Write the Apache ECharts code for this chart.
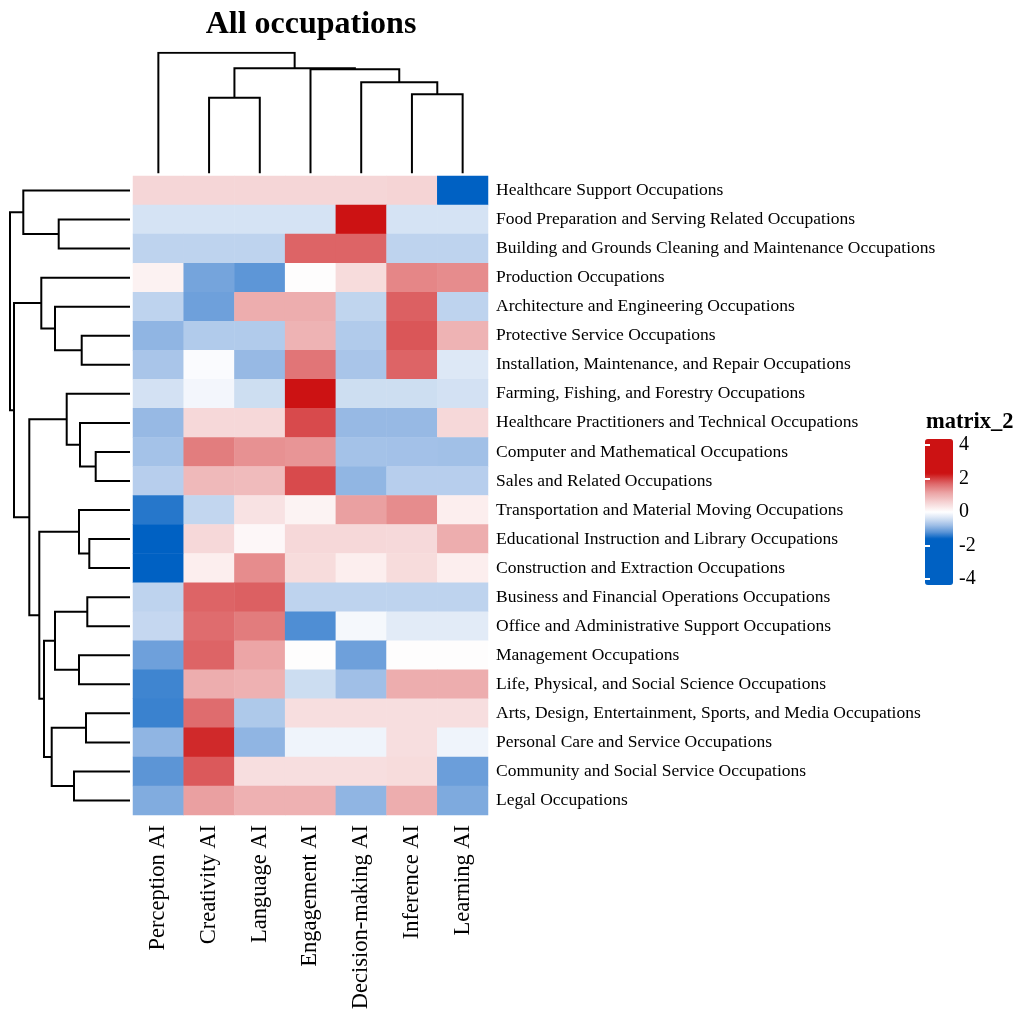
<!DOCTYPE html>
<html>
<head>
<meta charset="utf-8">
<script src="https://cdn.jsdelivr.net/npm/echarts@6/dist/echarts.min.js"></script>
<style>
  html, body { margin: 0; padding: 0; background: #ffffff; }
  #chart { width: 1019px; height: 1017px; }
</style>
</head>
<body>
<div id="chart"></div>
<script>
// Column (AI capability) and row (occupation) labels, in dendrogram order
const aiTypes = ['Perception AI', 'Creativity AI', 'Language AI', 'Engagement AI',
  'Decision-making AI', 'Inference AI', 'Learning AI'];

const occupations = [
  'Healthcare Support Occupations',
  'Food Preparation and Serving Related Occupations',
  'Building and Grounds Cleaning and Maintenance Occupations',
  'Production Occupations',
  'Architecture and Engineering Occupations',
  'Protective Service Occupations',
  'Installation, Maintenance, and Repair Occupations',
  'Farming, Fishing, and Forestry Occupations',
  'Healthcare Practitioners and Technical Occupations',
  'Computer and Mathematical Occupations',
  'Sales and Related Occupations',
  'Transportation and Material Moving Occupations',
  'Educational Instruction and Library Occupations',
  'Construction and Extraction Occupations',
  'Business and Financial Operations Occupations',
  'Office and Administrative Support Occupations',
  'Management Occupations',
  'Life, Physical, and Social Science Occupations',
  'Arts, Design, Entertainment, Sports, and Media Occupations',
  'Personal Care and Service Occupations',
  'Community and Social Service Occupations',
  'Legal Occupations'
];

// matrix_2 values: one row per occupation, one column per AI type
const matrix2 = [
  [ 0.54,  0.54,  0.54,  0.54,  0.54,  0.56, -1.80],
  [-0.38, -0.38, -0.38, -0.38,  2.60, -0.38, -0.38],
  [-0.56, -0.56, -0.56,  1.72,  1.72, -0.56, -0.56],
  [ 0.17, -1.04, -1.18,  0.03,  0.46,  1.42,  1.36],
  [-0.56, -1.08,  1.03,  1.03, -0.54,  1.75, -0.56],
  [-0.88, -0.65, -0.65,  0.96, -0.65,  1.82,  0.96],
  [-0.71, -0.05, -0.84,  1.57, -0.71,  1.72, -0.31],
  [-0.40, -0.11, -0.44,  2.60, -0.44, -0.44, -0.40],
  [-0.84,  0.51,  0.51,  1.91, -0.84, -0.84,  0.51],
  [-0.75,  1.50,  1.32,  1.28, -0.75, -0.76, -0.77],
  [-0.61,  0.89,  0.86,  1.91, -0.87, -0.61, -0.61],
  [-1.43, -0.53,  0.38,  0.16,  1.18,  1.36,  0.22],
  [-1.75,  0.51,  0.10,  0.51,  0.51,  0.50,  1.03],
  [-1.62,  0.22,  1.36,  0.46,  0.22,  0.46,  0.22],
  [-0.56,  1.72,  1.75, -0.56, -0.56, -0.56, -0.56],
  [-0.51,  1.65,  1.51, -1.25, -0.09, -0.27, -0.27],
  [-1.08,  1.72,  1.12,  0.03, -1.08,  0.03,  0.03],
  [-1.32,  1.03,  0.99, -0.45, -0.78,  1.03,  1.03],
  [-1.34,  1.65, -0.67,  0.43,  0.43,  0.43,  0.43],
  [-0.88,  2.14, -0.88, -0.15, -0.15,  0.43, -0.15],
  [-1.19,  1.80,  0.43,  0.43,  0.43,  0.46, -1.10],
  [-0.97,  1.18,  0.99,  0.99, -0.88,  1.03, -0.99]
];

// Column clustering (hclust-style merge steps: negative = leaf, positive = earlier step)
const colMerge = [[-2, -3], [-6, -7], [-5, 2], [-4, 3], [1, 4], [-1, 5]];
const colHeights = [75.6, 79, 91, 104, 105, 120.6];

// Row clustering
const rowMerge = [
  [-2, -3], [-1, 1], [-6, -7], [-5, 3], [-4, 4],
  [-10, -11], [-9, 6], [-8, 7], [-13, -14], [-12, 9],
  [-15, -16], [-17, -18], [11, 12], [-19, -20], [-21, -22],
  [14, 15], [13, 16], [10, 17], [8, 18], [5, 19], [2, 20]
];
const rowHeights = [71.3, 106.7, 48.3, 75, 88.7, 34.3, 50, 63.3, 40.7, 51,
  42.7, 51, 75, 44, 56, 78.3, 86, 90.7, 100.7, 116, 120];

// Colour legend
const legendTicks = [-4, -2, 0, 2, 4];
const legendRange = [-4.35, 4.35];

const FONT = 'Liberation Serif';

// Diverging blue-white-red ramp
const rampStops = [
  [-1.6, [0, 97, 195]], [-1.2, [90, 148, 214]], [-0.8, [157, 189, 230]],
  [-0.4, [211, 225, 243]], [0, [255, 255, 255]], [0.575, [245, 211, 212]],
  [1.15, [235, 163, 164]], [1.725, [221, 100, 102]], [2.3, [204, 18, 19]]
];
function rampColor(v) {
  if (v <= rampStops[0][0]) return rgb(rampStops[0][1]);
  const last = rampStops[rampStops.length - 1];
  if (v >= last[0]) return rgb(last[1]);
  for (let i = 0; i < rampStops.length - 1; i++) {
    const [a, ca] = rampStops[i], [b, cb] = rampStops[i + 1];
    if (v >= a && v <= b) {
      const t = (v - a) / (b - a);
      return rgb(ca.map((c, k) => c + (cb[k] - c) * t));
    }
  }
}
function rgb(c) { return 'rgb(' + c.map(x => Math.round(x)).join(',') + ')'; }

const rampColors = [];
for (let i = 0; i <= 174; i++) {
  rampColors.push(rampColor(legendRange[0] + (legendRange[1] - legendRange[0]) * i / 174));
}

// Turn merge steps into elbow polylines; leaf k sits at position k - 0.5
function dendrogram(merge, heights, horizontal) {
  const pos = [], hgt = [], out = [];
  const node = id => id < 0 ? { p: -id - 0.5, h: 0 } : { p: pos[id - 1], h: hgt[id - 1] };
  merge.forEach(([a, b], i) => {
    const A = node(a), B = node(b), H = heights[i];
    pos.push((A.p + B.p) / 2);
    hgt.push(H);
    const pts = [[A.p, A.h], [A.p, H], [B.p, H], [B.p, B.h]];
    out.push({ coords: horizontal ? pts.map(([p, h]) => [h, p]) : pts });
  });
  return out;
}

const cells = [];
matrix2.forEach((row, r) => row.forEach((v, c) => cells.push([c, r, v])));

const chart = echarts.init(document.getElementById('chart'), null, { renderer: 'canvas' });

const hidden = { show: false };
const legendTick = { show: true, inside: true, length: 5, customValues: [-4, -2, 2, 4],
  lineStyle: { color: '#ffffff', width: 2 } };

chart.setOption({
  backgroundColor: '#ffffff',
  animation: false,
  title: [
    { text: 'All occupations', left: 311, top: 9, padding: 0, textAlign: 'center',
      textStyle: { fontFamily: FONT, fontWeight: 'bold', fontSize: 32, color: '#000' } },
    { text: 'matrix_2', left: 926, top: 411, padding: 0,
      textStyle: { fontFamily: FONT, fontWeight: 'bold', fontSize: 22.5, color: '#000' } }
  ],
  grid: [
    { left: 133, top: 176, width: 355, height: 639 },
    { left: 133, top: 52.7, width: 355, height: 120.6 },
    { left: 10, top: 176, width: 120, height: 639 },
    { left: 925, top: 439, width: 28, height: 146 }
  ],
  xAxis: [
    { type: 'category', gridIndex: 0, data: aiTypes, position: 'bottom',
      axisLine: hidden, axisTick: hidden, splitLine: hidden,
      axisLabel: { rotate: 90, margin: 10, fontFamily: FONT, fontSize: 22.5, color: '#000' } },
    { type: 'value', gridIndex: 1, min: 0, max: aiTypes.length, show: false },
    { type: 'value', gridIndex: 2, min: 0, max: 120, inverse: true, show: false },
    { type: 'value', gridIndex: 3, min: 0, max: 1, show: false }
  ],
  yAxis: [
    { type: 'category', gridIndex: 0, data: occupations, inverse: true, position: 'right',
      axisLine: hidden, axisTick: hidden, splitLine: hidden,
      axisLabel: { margin: 8, fontFamily: FONT, fontSize: 17.5, color: '#000' } },
    { type: 'value', gridIndex: 1, min: 0, max: 120.6, show: false },
    { type: 'value', gridIndex: 2, min: 0, max: occupations.length, inverse: true, show: false },
    { type: 'value', gridIndex: 3, min: legendRange[0], max: legendRange[1], position: 'right', z: 10,
      axisLine: hidden, splitLine: hidden, axisTick: legendTick,
      axisLabel: { customValues: legendTicks, margin: 6, fontFamily: FONT, fontSize: 20, color: '#000' } },
    { type: 'value', gridIndex: 3, min: legendRange[0], max: legendRange[1], position: 'left', z: 10,
      axisLine: hidden, splitLine: hidden, axisTick: legendTick, axisLabel: hidden }
  ],
  visualMap: {
    type: 'continuous', min: legendRange[0], max: legendRange[1], seriesIndex: 0, dimension: 2,
    calculable: false, hoverLink: false, itemWidth: 28, itemHeight: 146,
    left: 925, top: 439, padding: 0, text: null, showLabel: false,
    inRange: { color: rampColors }
  },
  series: [
    { type: 'heatmap', xAxisIndex: 0, yAxisIndex: 0, data: cells,
      itemStyle: { borderWidth: 0 }, emphasis: { disabled: true } },
    { type: 'lines', coordinateSystem: 'cartesian2d', xAxisIndex: 1, yAxisIndex: 1,
      polyline: true, silent: true, data: dendrogram(colMerge, colHeights, false),
      lineStyle: { color: '#000', width: 2, opacity: 1 } },
    { type: 'lines', coordinateSystem: 'cartesian2d', xAxisIndex: 2, yAxisIndex: 2,
      polyline: true, silent: true, data: dendrogram(rowMerge, rowHeights, true),
      lineStyle: { color: '#000', width: 2, opacity: 1 } }
  ]
});
</script>
</body>
</html>
